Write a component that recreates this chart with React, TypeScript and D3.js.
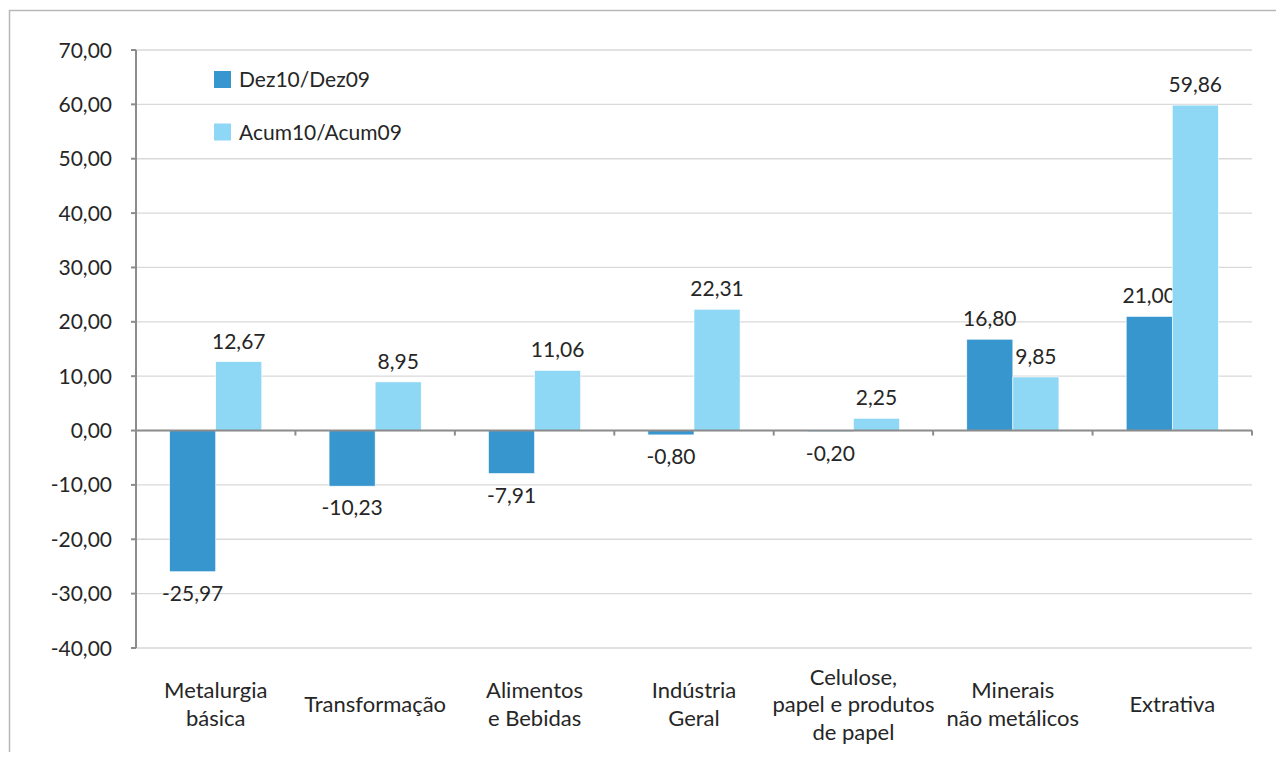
import React from "react";
import * as d3 from "d3";

const categories: string[][] = [
  ["Metalurgia", "básica"],
  ["Transformação"],
  ["Alimentos", "e Bebidas"],
  ["Indústria", "Geral"],
  ["Celulose,", "papel e produtos", "de papel"],
  ["Minerais", "não metálicos"],
  ["Extrativa"],
];
const dez: number[] = [-25.97, -10.23, -7.91, -0.8, -0.2, 16.8, 21.0];
const acum: number[] = [12.67, 8.95, 11.06, 22.31, 2.25, 9.85, 59.86];
const seriesNames = ["Dez10/Dez09", "Acum10/Acum09"];
const seriesColors = ["#3796CE", "#8FD8F5"];
const yTicks: number[] = [70, 60, 50, 40, 30, 20, 10, 0, -10, -20, -30, -40];

const W = 1284;
const H = 760;
const FONT = "Lato, 'Open Sans', sans-serif";
const fmt = (v: number) => v.toFixed(2).replace(".", ",");

export default function App() {
  const left = 136;
  const right = 1252;
  const top = 50;
  const bottom = 648;

  const y = d3.scaleLinear().domain([-40, 70]).range([bottom, top]);
  const x = d3
    .scaleBand<number>()
    .domain(d3.range(categories.length))
    .range([left, right]);
  const barW = x.bandwidth() * 0.289;
  const y0 = y(0);

  const series = [dez, acum];

  return (
    <div style={{ margin: -8 }}>
      <svg width={W} height={H} style={{ display: "block", fontFamily: FONT }}>
        <rect x={0} y={0} width={W} height={H} fill="#fff" />
        <rect x={9.5} y={10.5} width={W + 20} height={H + 20} fill="none" stroke="#b8b8b8" strokeWidth={1.5} />

        {/* horizontal gridlines */}
        {yTicks.map((t) => (
          <line key={"g" + t} x1={left} x2={right} y1={y(t)} y2={y(t)} stroke="#d9d9d9" strokeWidth={1.3} />
        ))}

        {/* each series: bars then their value labels */}
        {series.map((vals, si) => (
          <g key={"s" + si}>
            {vals.map((v, i) => {
              const cx = (x(i) as number) + x.bandwidth() / 2;
              const bx = si === 0 ? cx - barW : cx;
              const yv = y(v);
              return (
                <rect
                  key={`b${si}-${i}`}
                  x={bx}
                  y={Math.min(yv, y0)}
                  width={barW}
                  height={Math.abs(yv - y0)}
                  fill={seriesColors[si]}
                  stroke="#fff"
                  strokeWidth={0.6}
                />
              );
            })}
            {vals.map((v, i) => {
              const cx = (x(i) as number) + x.bandwidth() / 2;
              const lx = si === 0 ? cx - barW / 2 : cx + barW / 2;
              const ly = v >= 0 ? y(v) - 13 : y(v) + 29;
              return (
                <text
                  key={`l${si}-${i}`}
                  x={lx}
                  y={ly}
                  textAnchor="middle"
                  fontSize={21}
                  fill="#262626"
                >
                  {fmt(v)}
                </text>
              );
            })}
          </g>
        ))}

        {/* y axis */}
        <line x1={left} x2={left} y1={top} y2={bottom} stroke="#8c8c8c" strokeWidth={2} />
        {yTicks.map((t) => (
          <g key={"t" + t}>
            <line x1={left - 5} x2={left} y1={y(t)} y2={y(t)} stroke="#8c8c8c" strokeWidth={2} />
            <text x={112} y={y(t) + 7.5} textAnchor="end" fontSize={21} fill="#262626">
              {fmt(t)}
            </text>
          </g>
        ))}

        {/* x axis at zero */}
        <line x1={left} x2={right} y1={y0} y2={y0} stroke="#8c8c8c" strokeWidth={2} />
        {d3.range(categories.length + 1).map((i) => {
          const tx = i < categories.length ? (x(i) as number) : right;
          return <line key={"xt" + i} x1={tx} x2={tx} y1={y0} y2={y0 + 5} stroke="#8c8c8c" strokeWidth={2} />;
        })}

        {/* category labels */}
        {categories.map((lines, i) => {
          const cx = (x(i) as number) + x.bandwidth() / 2;
          const lh = 27.5;
          const startY = 712 - ((lines.length - 1) * lh) / 2;
          return (
            <text key={"c" + i} textAnchor="middle" fontSize={22} fill="#262626">
              {lines.map((ln, k) => (
                <tspan key={k} x={cx} y={startY + k * lh}>
                  {ln}
                </tspan>
              ))}
            </text>
          );
        })}

        {/* legend */}
        {seriesNames.map((name, si) => (
          <g key={"lg" + si} transform={`translate(214, ${71 + si * 52.5})`}>
            <rect x={0} y={0} width={17} height={17} fill={seriesColors[si]} />
            <text x={25} y={16} fontSize={21} fill="#262626">
              {name}
            </text>
          </g>
        ))}
      </svg>
    </div>
  );
}
